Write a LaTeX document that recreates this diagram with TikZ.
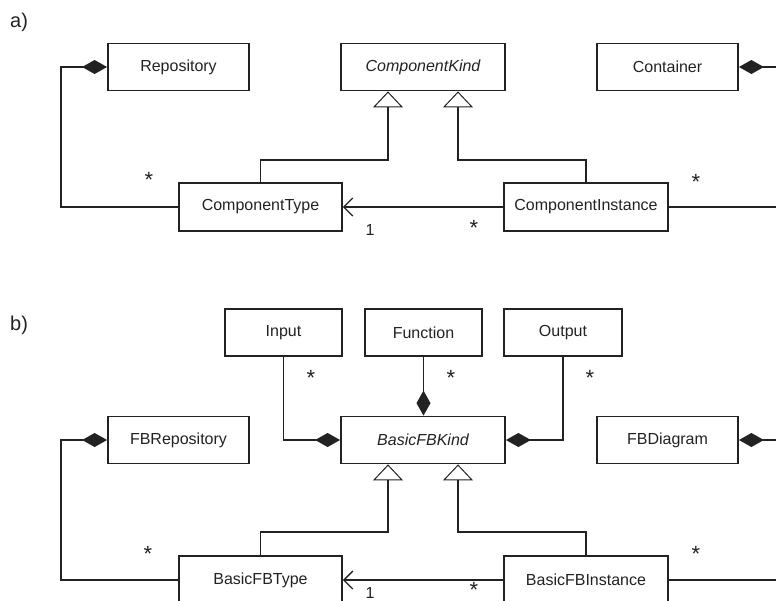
\documentclass[tikz,border=0pt]{standalone}
\usepackage{fontspec}
\setmainfont{Liberation Sans}
\usetikzlibrary{arrows.meta}
\definecolor{ink}{RGB}{34,34,34}
\begin{document}
\begin{tikzpicture}[x=1pt,y=-1pt,
  every node/.style={text=ink, font=\fontsize{16}{19}\selectfont},
  cls/.style={draw=ink, line width=1.8pt, minimum height=47pt, inner sep=0pt},
  wide/.style={cls, minimum width=164pt},
  mid/.style={cls, minimum width=141pt},
  small/.style={cls, minimum width=117pt},
  conn/.style={draw=ink, line width=1.5pt},
  comp/.style={conn, -{Diamond[length=25pt,width=14pt]}},
  gen/.style={conn, -{Triangle[open,length=16pt,width=30pt,line width=1pt]}},
  assoc/.style={conn, -{Straight Barb[length=9pt,width=18pt,line width=1.3pt]}},
  mult/.style={anchor=base, inner sep=0pt},
  star/.style={mult, font=\fontsize{22}{24}\selectfont},
  panel/.style={anchor=west, inner sep=0pt, font=\fontsize{20}{23}\selectfont}]
\useasboundingbox (0,0) rectangle (776,600);
\clip (0,0) rectangle (776,600);

% ---------- a) components ----------
\node[panel] (la) at (10,22) {a)};
\node[mid]  (rep)   at (178.5,67) {Repository};
\node[wide] (kind)  at (423,67)   {\itshape ComponentKind};
\node[mid]  (cont)  at (667.5,67) {Container};
\node[wide, minimum width=163pt, minimum height=48pt] (ctype) at (260.5,207) {ComponentType};
\node[wide, minimum height=48pt] (cinst) at (586,207) {ComponentInstance};

\draw[comp] (ctype.west) -- ++(-117,0) |- (rep.west);
\draw[comp] (cinst.east) -- ++(122,0) |- (cont.east);
\draw[gen] (ctype.north) -- ++(0,-22) -| ([xshift=-35pt]kind.south);
\draw[gen] (cinst.north) -- ++(0,-22) -| ([xshift=35pt]kind.south);
\draw[assoc] (cinst.west) -- (ctype.east);

\node[star] (ma1) at (149,187) {*};
\node[star] (ma2) at (696,189) {*};
\node[star] (ma3) at (474,235) {*};
\node[mult] (ma4) at (370,235) {1};

% ---------- b) basic function blocks ----------
\node[panel] (lb) at (10,325) {b)};
\node[small] (inp)  at (283.5,332.5) {Input};
\node[small] (func) at (423.5,332.5) {Function};
\node[small, minimum width=118pt] (outp) at (563,332.5) {Output};
\node[mid]  (fbrep)  at (178.5,440) {FBRepository};
\node[wide] (fbkind) at (423,440)   {\itshape BasicFBKind};
\node[mid]  (fbdiag) at (667.5,440) {FBDiagram};
\node[wide, minimum width=163pt, minimum height=48pt] (fbtype) at (260.5,580) {BasicFBType};
\node[wide, minimum height=48pt] (fbinst) at (586,580) {BasicFBInstance};

\draw[comp] (inp.south) |- (fbkind.west);
\draw[comp] (func.south) -- (func.south |- fbkind.north);
\draw[comp] (outp.south) |- (fbkind.east);
\draw[comp] (fbtype.west) -- ++(-117,0) |- (fbrep.west);
\draw[comp] (fbinst.east) -- ++(122,0) |- (fbdiag.east);
\draw[gen] (fbtype.north) -- ++(0,-23) -| ([xshift=-35pt]fbkind.south);
\draw[gen] (fbinst.north) -- ++(0,-23) -| ([xshift=35pt]fbkind.south);
\draw[assoc] (fbinst.west) -- (fbtype.east);

\node[star] (mb1) at (311,385) {*};
\node[star] (mb2) at (451,385) {*};
\node[star] (mb3) at (590,385) {*};
\node[star] (mb4) at (148,561) {*};
\node[star] (mb5) at (696,561) {*};
\node[star] (mb6) at (474,597) {*};
\node[mult] (mb7) at (370,598) {1};
\end{tikzpicture}
\end{document}
